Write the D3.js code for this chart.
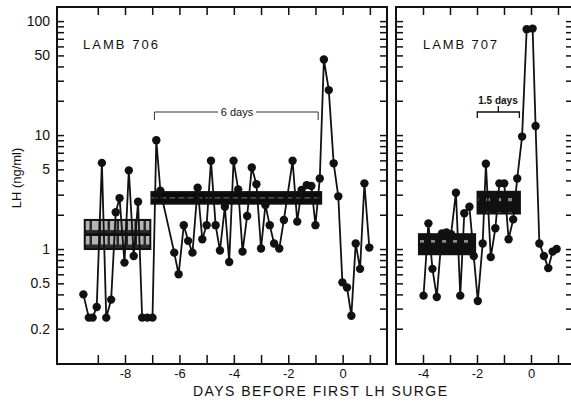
<!DOCTYPE html>
<html>
<head>
<meta charset="utf-8">
<script src="https://cdn.jsdelivr.net/npm/d3@7"></script>
<style>
  body { margin: 0; background: #fff; }
  text { font-family: "Liberation Sans", Arial, sans-serif; fill: #111; }
</style>
</head>
<body>
<script>
// LH values (days before first LH surge, ng/ml)
const days706 = [-9.53, -9.33, -9.19, -9.04, -8.85, -8.69, -8.51, -8.34, -8.20, -8.02, -7.86, -7.68, -7.52,
  -7.37, -7.18, -6.99, -6.85, -6.70, -6.19, -6.03, -5.84, -5.68, -5.52, -5.33, -5.16, -5.00, -4.84, -4.67,
  -4.51, -4.33, -4.17, -4.01, -3.84, -3.68, -3.51, -3.34, -3.17, -3.00, -2.84, -2.68, -2.52, -2.33, -2.16,
  -1.84, -1.67, -1.51, -1.32, -1.15, -1.00, -0.84, -0.69, -0.51, -0.33, -0.16, -0.01, 0.16, 0.32, 0.48,
  0.64, 0.80, 0.98];
const lh706 = [0.40, 0.25, 0.25, 0.31, 5.7, 0.25, 0.36, 2.1, 2.8, 0.76, 4.9, 0.87, 2.6,
  0.25, 0.25, 0.25, 9.0, 3.25, 0.93, 0.6, 1.62, 1.18, 0.93, 3.45, 1.22, 1.62, 5.95, 1.62,
  0.97, 2.35, 0.77, 5.95, 3.34, 0.95, 1.95, 5.2, 3.7, 1.01, 2.43, 1.62, 1.12, 1.01, 1.8,
  5.95, 1.74, 3.3, 3.64, 3.57, 1.62, 4.16, 46, 24.8, 5.65, 2.9, 0.51, 0.46, 0.26, 1.12,
  0.67, 3.77, 1.03];

const days707 = [-3.98, -3.80, -3.65, -3.49, -3.30, -3.13, -2.96, -2.78, -2.62, -2.47, -2.28, -2.12, -1.97,
  -1.79, -1.67, -1.49, -1.32, -1.17, -0.99, -0.83, -0.66, -0.51, -0.33, -0.16, 0.06, 0.17, 0.31, 0.48,
  0.64, 0.80, 0.95];
const lh707 = [0.39, 1.68, 0.67, 0.38, 1.37, 1.40, 1.35, 3.12, 0.39, 2.06, 2.35, 0.87, 0.35,
  1.12, 5.6, 0.85, 1.52, 3.77, 3.77, 1.22, 1.82, 4.16, 9.7, 85, 86, 12, 1.12, 0.87,
  0.68, 0.95, 1.0];

// mean +/- range boxes: start day, end day, low, high
const boxStart706 = [-9.48, -7.03], boxEnd706 = [-7.07, -0.79], boxLo706 = [1.0, 2.5], boxHi706 = [1.8, 3.16];
const boxStart707 = [-4.15, -1.98], boxEnd707 = [-2.07, -0.41], boxLo707 = [0.9, 2.05], boxHi707 = [1.35, 3.18];

const yTicks = [0.2, 0.3, 0.4, 0.5, 0.6, 0.7, 0.8, 0.9, 1, 2, 3, 4, 5, 6, 7, 8, 9,
  10, 20, 30, 40, 50, 60, 70, 80, 90, 100];
const yLabels = [0.2, 0.5, 1, 5, 10, 50, 100];
const xTicks706 = [-9, -8, -7, -6, -5, -4, -3, -2, -1, 0, 1];
const xLabels706 = [-8, -6, -4, -2, 0];
const xTicks707 = [-4, -3, -2, -1, 0, 1];
const xLabels707 = [-4, -2, 0];

const svg = d3.select("body").append("svg")
  .attr("width", 571)
  .attr("height", 404);

const defs = svg.append("defs");

// mottled grey fill for the first box, dark speckled fill for the others
function makePattern(id, bg, fg, w, h, pw, ph) {
  const p = defs.append("pattern")
    .attr("id", id)
    .attr("patternUnits", "userSpaceOnUse")
    .attr("width", w)
    .attr("height", h);
  p.append("rect").attr("width", w).attr("height", h).attr("fill", bg);
  p.append("rect").attr("x", 2).attr("y", 2).attr("width", pw).attr("height", ph).attr("fill", fg);
}
makePattern("greyBox", "#2a2a2a", "#b4b4b4", 9, 14.5, 6.5, 10.5);
makePattern("darkBox", "#111", "#8a8a8a", 11, 14, 4, 5);

const y = d3.scaleLog().domain([0.1, 133]).range([363, 7]);
const xL = d3.scaleLinear().domain([-10.5, 1.63]).range([57, 387]);
const xR = d3.scaleLinear().domain([-5, 1.556]).range([396, 573]);

function panel(x, days, lh, starts, ends, los, his, fills, xticks, xlabels, showYLabels) {
  const [x0, x1] = x.range();
  const g = svg.append("g");

  // Boxes
  starts.forEach((s, i) => {
    const top = y(his[i]), bot = y(los[i]);
    g.append("rect")
      .attr("x", x(s))
      .attr("y", top)
      .attr("width", x(ends[i]) - x(s))
      .attr("height", bot - top)
      .attr("fill", fills[i] === "black" ? "#0c0c0c" : `url(#${fills[i]})`)
      .attr("stroke", "#111")
      .attr("stroke-width", 2);
    g.append("line")
      .attr("x1", x(s)).attr("x2", x(ends[i]))
      .attr("y1", (top + bot) / 2).attr("y2", (top + bot) / 2)
      .attr("stroke", fills[i] === "black" ? "#777" : "#111")
      .attr("stroke-width", fills[i] === "black" ? 1 : 3)
      .attr("stroke-dasharray", fills[i] === "black" ? "6,3" : null);
  });

  // Series
  const pts = days.map((d, i) => [d, lh[i]]);
  g.append("path")
    .datum(pts)
    .attr("d", d3.line().x(d => x(d[0])).y(d => y(d[1])))
    .attr("fill", "none")
    .attr("stroke", "#111")
    .attr("stroke-width", 1.8);
  g.selectAll("circle")
    .data(pts)
    .join("circle")
    .attr("cx", d => x(d[0]))
    .attr("cy", d => y(d[1]))
    .attr("r", 4.2)
    .attr("fill", "#111");

  // Frame
  g.append("rect")
    .attr("x", x0).attr("y", 7)
    .attr("width", x1 - x0).attr("height", 357)
    .attr("fill", "none")
    .attr("stroke", "#111")
    .attr("stroke-width", 2);

  // Axes
  const fmtY = d => (showYLabels && yLabels.includes(d)) ? String(d) : "";
  const left = g.append("g")
    .attr("transform", `translate(${x0},0)`)
    .call(d3.axisLeft(y).tickValues(yTicks).tickSize(-7).tickPadding(7).tickFormat(fmtY));
  const right = g.append("g")
    .attr("transform", `translate(${x1},0)`)
    .call(d3.axisRight(y).tickValues(yTicks).tickSize(-7).tickFormat(""));
  const bottom = g.append("g")
    .attr("transform", "translate(0,364)")
    .call(d3.axisBottom(x).tickValues(xticks).tickSize(-9).tickPadding(5)
      .tickFormat(d => xlabels.includes(d) ? String(d) : ""));
  const top = g.append("g")
    .attr("transform", "translate(0,7)")
    .call(d3.axisTop(x).tickValues(xticks).tickSize(-8).tickFormat(""));

  [left, right, bottom, top].forEach(a => {
    a.select(".domain").remove();
    a.selectAll("line").attr("stroke", "#111").attr("stroke-width", 1.5);
    a.selectAll("text")
      .attr("font-size", 13)
      .attr("fill", "#111")
      .style("font-family", "'Liberation Sans', Arial, sans-serif");
  });
  left.selectAll("text").attr("font-size", 14);
  return g;
}

panel(xL, days706, lh706, boxStart706, boxEnd706, boxLo706, boxHi706, ["greyBox", "black"],
  xTicks706, xLabels706, true);
panel(xR, days707, lh707, boxStart707, boxEnd707, boxLo707, boxHi707, ["darkBox", "darkBox"],
  xTicks707, xLabels707, false);

// Panel titles
svg.append("text")
  .attr("x", 83).attr("y", 49)
  .attr("font-size", 13)
  .attr("textLength", 75)
  .text("LAMB 706");
svg.append("text")
  .attr("x", 423).attr("y", 49)
  .attr("font-size", 13)
  .attr("textLength", 74)
  .text("LAMB 707");

// 6 days bracket
const b706 = [-6.92, -0.9];
svg.append("path")
  .attr("d", `M${xL(b706[0])},120V112H218M256,112H${xL(b706[1])}V120`)
  .attr("fill", "none")
  .attr("stroke", "#333")
  .attr("stroke-width", 1);
svg.append("text")
  .attr("x", 237).attr("y", 116)
  .attr("text-anchor", "middle")
  .attr("font-size", 11)
  .text("6 days");

// 1.5 days bracket
const b707 = [-1.99, -0.43];
svg.append("path")
  .attr("d", `M${xR(b707[0])},118V112H${xR(b707[1])}V118M${(xR(b707[0]) + xR(b707[1])) / 2},112V106`)
  .attr("fill", "none")
  .attr("stroke", "#111")
  .attr("stroke-width", 1.3);
svg.append("text")
  .attr("x", 498).attr("y", 104)
  .attr("text-anchor", "middle")
  .attr("font-size", 10)
  .attr("font-weight", "bold")
  .text("1.5 days");

// Axis titles
svg.append("text")
  .attr("transform", "translate(21,178) rotate(-90)")
  .attr("text-anchor", "middle")
  .attr("font-size", 13)
  .text("LH (ng/ml)");
svg.append("text")
  .attr("x", 193).attr("y", 396)
  .attr("font-size", 14)
  .attr("textLength", 254)
  .attr("lengthAdjust", "spacing")
  .text("DAYS BEFORE FIRST LH SURGE");
</script>
</body>
</html>
